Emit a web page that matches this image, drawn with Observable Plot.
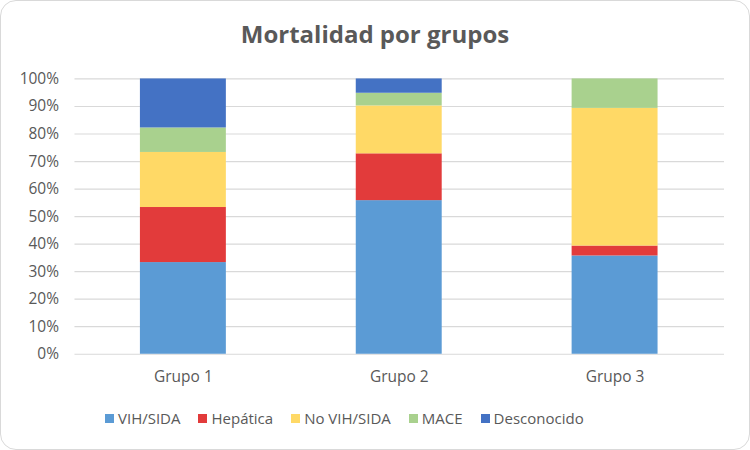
<!DOCTYPE html>
<html>
<head>
<meta charset="utf-8">
<script src="https://cdn.jsdelivr.net/npm/d3@7"></script>
<script src="https://cdn.jsdelivr.net/npm/@observablehq/plot@0.6"></script>
<style>
  html, body { margin: 0; padding: 0; background: #fff; }
  #frame {
    position: relative; width: 750px; height: 450px; box-sizing: border-box;
    border: 1.5px solid #d9d9d9; border-radius: 16px; overflow: hidden; background: #fff;
  }
  #title {
    position: absolute; left: 0; right: 0; top: 16px; text-align: center;
    font-family: "Open Sans", sans-serif; font-weight: 700; font-size: 24px; color: #595959;
  }
  #chart { position: absolute; left: -1.5px; top: -1.5px; }
  #legend {
    position: absolute; left: 104px; top: 407px; display: flex; justify-content: flex-start;
    font-family: "Open Sans", sans-serif; font-size: 15px; color: #595959; gap: 18px;
  }
  #legend .item { display: flex; align-items: center; }
  #legend .sw { width: 9px; height: 9px; margin-right: 4px; }
</style>
</head>
<body>
<div id="frame">
  <div id="title">Mortalidad por grupos</div>
  <div id="chart"></div>
  <div id="legend"></div>
</div>
<script>
const grupos = ["Grupo 1", "Grupo 2", "Grupo 3"];
const categorias = ["VIH/SIDA", "Hepática", "No VIH/SIDA", "MACE", "Desconocido"];
const colores = ["#5B9BD5", "#E23B3B", "#FFD966", "#A9D18E", "#4472C4"];
const vihSida     = [33.3, 55.8, 35.7];
const hepatica    = [20.0, 17.0, 3.6];
const noVihSida   = [20.0, 17.4, 50.0];
const mace        = [8.9, 4.6, 10.7];
const desconocido = [17.8, 5.2, 0];
const yTicks = [0, 10, 20, 30, 40, 50, 60, 70, 80, 90, 100];

const series = [vihSida, hepatica, noVihSida, mace, desconocido];
const data = [];
grupos.forEach((g, i) => {
  categorias.forEach((c, j) => data.push({grupo: g, cat: c, valor: series[j][i]}));
});

const plot = Plot.plot({
  width: 750,
  height: 400,
  marginLeft: 74.5,
  marginRight: 25.5,
  marginTop: 78.5,
  marginBottom: 46,
  style: {fontFamily: "'Open Sans', sans-serif", fontSize: "15.5px", color: "#595959", background: "transparent"},
  x: {domain: grupos, paddingInner: 0.6, paddingOuter: 0.3, label: null, tickSize: 0, tickPadding: 17},
  y: {domain: [0, 100], ticks: yTicks, tickFormat: d => d + "%", label: null, tickSize: 0, tickPadding: 16},
  color: {domain: categorias, range: colores},
  marks: [
    Plot.ruleY(yTicks, {stroke: "#d9d9d9", strokeWidth: 1.2}),
    Plot.barY(data, {x: "grupo", y: "valor", fill: "cat"})
  ]
});
document.getElementById("chart").appendChild(plot);

const legend = document.getElementById("legend");
categorias.forEach((c, j) => {
  const item = document.createElement("div");
  item.className = "item";
  const sw = document.createElement("span");
  sw.className = "sw";
  sw.style.background = colores[j];
  item.appendChild(sw);
  item.appendChild(document.createTextNode(c));
  legend.appendChild(item);
});
</script>
</body>
</html>
